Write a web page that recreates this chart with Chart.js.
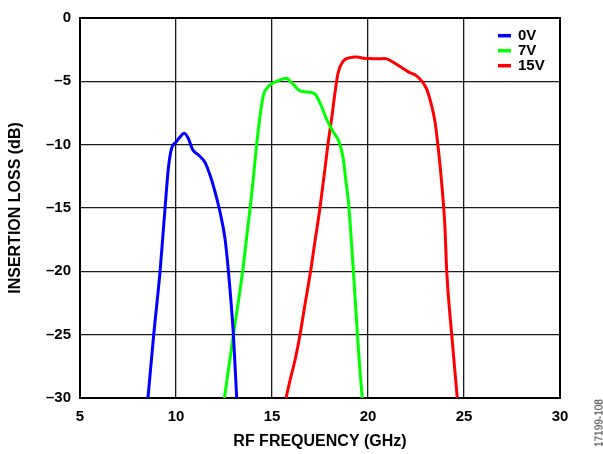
<!DOCTYPE html>
<html>
<head>
<meta charset="utf-8">
<title>Insertion loss vs RF frequency</title>
<script src="https://cdn.jsdelivr.net/npm/chart.js@4.4.0/dist/chart.umd.min.js"></script>
<style>
  html, body { margin: 0; padding: 0; background: #fff; }
  #wrap { position: relative; width: 603px; height: 454px; }
  #code {
    position: absolute; left: 599px; top: 423px;
    transform: translate(-50%, -50%) rotate(-90deg);
    font: 10px "Liberation Sans", Arial, sans-serif; color: #222; white-space: nowrap;
  }
</style>
</head>
<body>
<div id="wrap">
  <canvas id="chart" width="603" height="454"></canvas>
  <div id="code">17199-108</div>
</div>
<script>
// Datos: frecuencia (GHz) y pérdida de inserción (dB) por tensión.
const seriesLabels = ["0V", "7V", "15V"];
const seriesColors = ["#0000ff", "#00ff00", "#ff0000"];

const freq0V = [8.54, 8.84, 9.17, 9.43, 9.6, 9.77, 10.0, 10.21, 10.42, 10.64, 10.87, 11.16, 11.51, 11.77, 12.03, 12.29, 12.55, 12.73, 12.99, 13.16];
const loss0V = [-30, -25, -20, -15, -11.9, -10.3, -9.8, -9.4, -9.1, -9.5, -10.4, -10.8, -11.4, -12.4, -13.7, -15.3, -17.4, -20, -25, -30];

const freq7V = [12.52, 12.99, 13.47, 13.72, 13.9, 14.05, 14.2, 14.38, 14.55, 14.76, 14.98, 15.33, 15.73, 16.02, 16.46, 16.89, 17.24, 17.5, 17.85, 18.19, 18.5, 18.71, 18.85, 18.98, 19.11, 19.24, 19.45, 19.58, 19.7];
const loss7V = [-30, -25, -20, -16.8, -14.5, -12.3, -10.0, -7.7, -6.1, -5.5, -5.2, -4.95, -4.75, -5.1, -5.75, -5.85, -6.0, -6.7, -8.0, -9.0, -9.8, -11.1, -12.9, -14.5, -17.1, -20, -25, -27.8, -30];

const freq15V = [15.73, 15.94, 16.2, 16.46, 16.72, 17.01, 17.24, 17.47, 17.7, 17.93, 18.11, 18.28, 18.45, 18.71, 19.06, 19.41, 19.84, 20.1, 20.45, 20.89, 21.32, 21.75, 22.1, 22.53, 22.79, 23.05, 23.31, 23.49, 23.63, 23.83, 24.01, 24.1, 24.36, 24.65];
const loss15V = [-30, -28.6, -27, -25, -22.6, -20, -17.6, -15.3, -12.6, -9.8, -7.9, -5.9, -4.3, -3.4, -3.13, -3.08, -3.19, -3.2, -3.22, -3.2, -3.5, -3.9, -4.25, -4.57, -4.96, -5.6, -6.9, -8.2, -9.9, -12.9, -16.6, -20, -25, -30];

const xTicks = [5, 10, 15, 20, 25, 30];
const yTicks = [0, -5, -10, -15, -20, -25, -30];

const freqs = [freq0V, freq7V, freq15V];
const losses = [loss0V, loss7V, loss15V];

const FONT = "'Liberation Sans', Arial, sans-serif";

// Recuadro negro alrededor del área de trazado.
const frameBox = {
  id: "frameBox",
  beforeDatasetsDraw(chart) {
    const { ctx, chartArea: a } = chart;
    ctx.save();
    ctx.strokeStyle = "#000";
    ctx.lineWidth = 2;
    ctx.strokeRect(a.left, a.top, a.right - a.left, a.bottom - a.top);
    ctx.restore();
  }
};

// Leyenda en la esquina superior derecha, dentro del área.
const cornerLegend = {
  id: "cornerLegend",
  afterDatasetsDraw(chart) {
    const { ctx, chartArea: a } = chart;
    ctx.save();
    ctx.font = "bold 15px " + FONT;
    ctx.textBaseline = "middle";
    ctx.textAlign = "left";
    chart.data.datasets.forEach((ds, i) => {
      const y = a.top + 17.7 + i * 15;
      const x = a.right - 62;
      ctx.strokeStyle = ds.borderColor;
      ctx.lineWidth = 3.5;
      ctx.beginPath();
      ctx.moveTo(x, y);
      ctx.lineTo(x + 13, y);
      ctx.stroke();
      ctx.fillStyle = "#000";
      ctx.fillText(ds.label, x + 20, y + 0.5);
    });
    ctx.restore();
  }
};

const datasets = seriesLabels.map((label, i) => ({
  label,
  data: freqs[i].map((f, k) => ({ x: f, y: losses[i][k] })),
  borderColor: seriesColors[i],
  backgroundColor: seriesColors[i],
  borderWidth: 3,
  pointRadius: 0,
  cubicInterpolationMode: "monotone",
  fill: false
}));

new Chart(document.getElementById("chart").getContext("2d"), {
  type: "line",
  data: { datasets },
  plugins: [frameBox, cornerLegend],
  options: {
    responsive: false,
    animation: false,
    devicePixelRatio: 1,
    layout: { padding: { top: 15, right: 43, left: 0, bottom: 0 } },
    plugins: { legend: { display: false }, tooltip: { enabled: false } },
    scales: {
      x: {
        type: "linear",
        min: 5,
        max: 30,
        afterBuildTicks: (scale) => { scale.ticks = xTicks.map((v) => ({ value: v })); },
        afterFit: (scale) => { scale.height = 56; },
        grid: { color: "#1a1a1a", lineWidth: 1.3, drawTicks: false },
        border: { display: false },
        ticks: { padding: 10, color: "#000", font: { family: FONT, size: 15, weight: "bold" } },
        title: {
          display: true,
          text: "RF FREQUENCY (GHz)",
          color: "#000",
          font: { family: FONT, size: 16, weight: "bold" },
          padding: { top: 0, bottom: 3 }
        }
      },
      y: {
        type: "linear",
        min: -30,
        max: 0,
        afterBuildTicks: (scale) => { scale.ticks = yTicks.map((v) => ({ value: v })); },
        afterFit: (scale) => { scale.width = 80; },
        grid: { color: "#1a1a1a", lineWidth: 1.3, drawTicks: false },
        border: { display: false },
        ticks: {
          padding: 9,
          color: "#000",
          font: { family: FONT, size: 15, weight: "bold" },
          callback: (v) => String(v).replace("-", "\u2013")
        },
        title: {
          display: true,
          text: "INSERTION LOSS (dB)",
          color: "#000",
          font: { family: FONT, size: 16, weight: "bold" },
          padding: { top: 6, bottom: 0 }
        }
      }
    }
  }
});
</script>
</body>
</html>
